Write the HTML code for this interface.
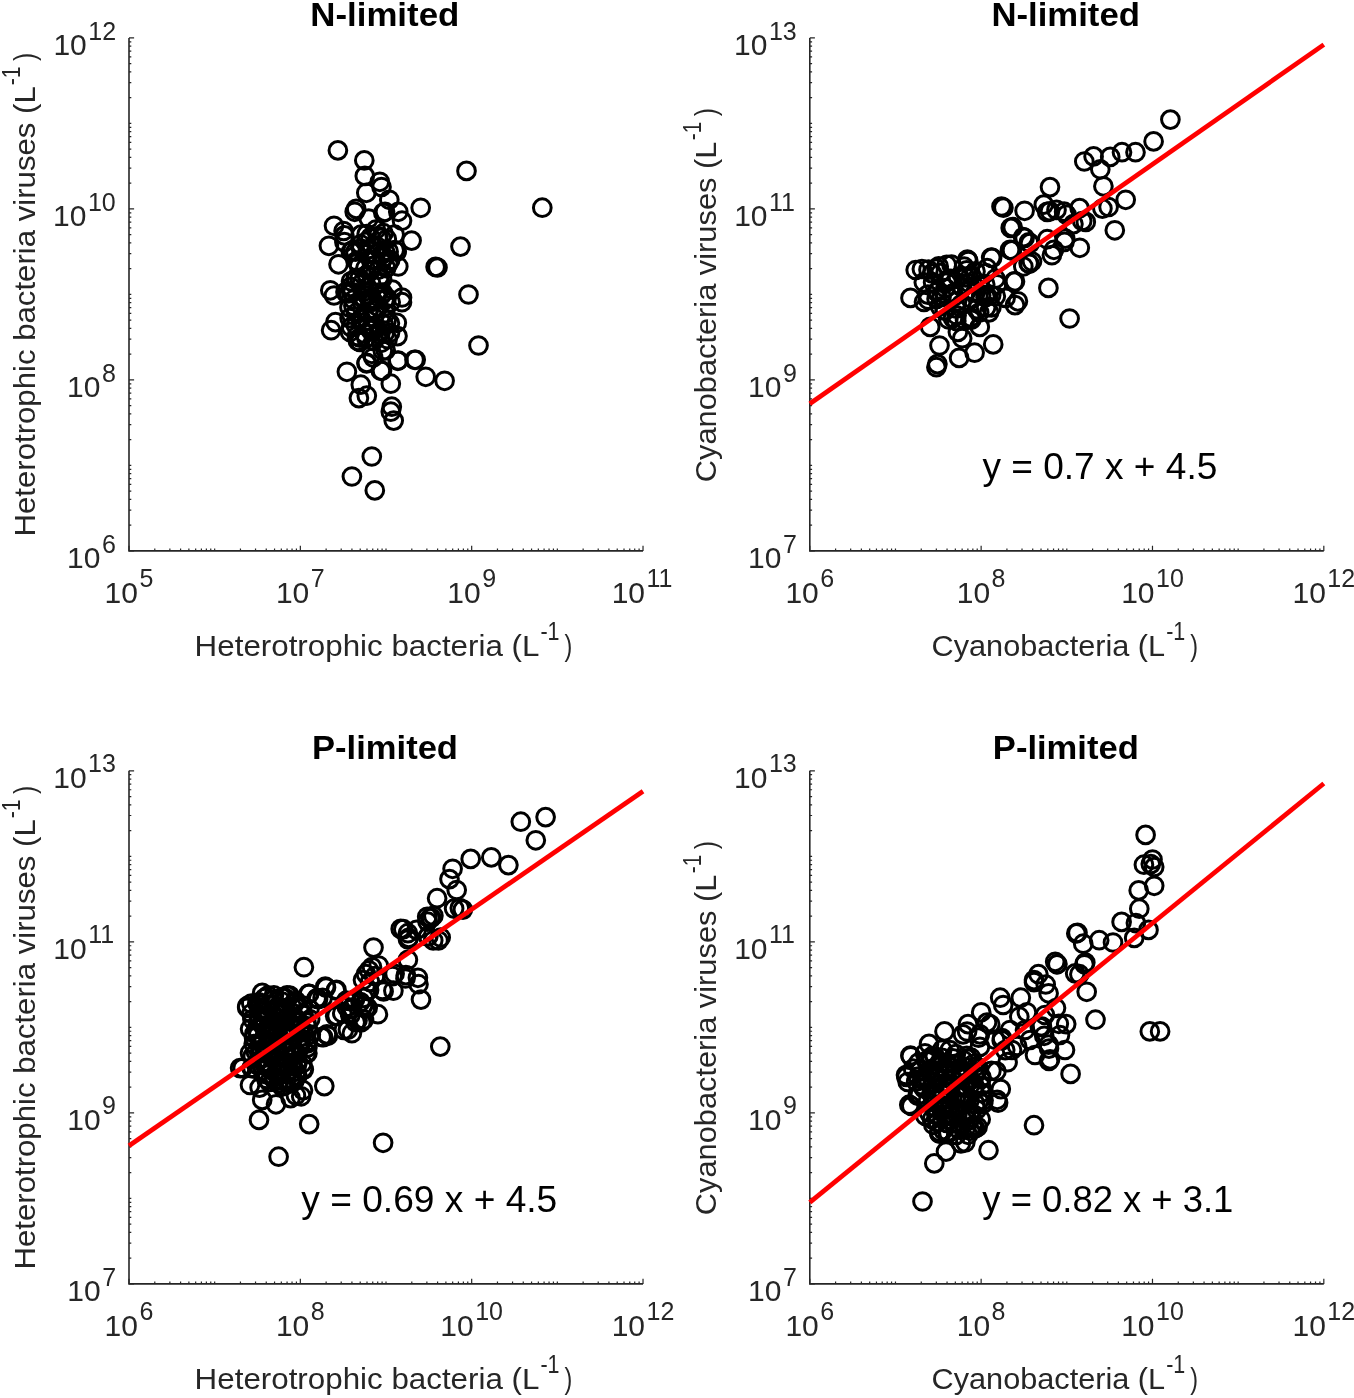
<!DOCTYPE html>
<html><head><meta charset="utf-8"><title>Figure</title>
<style>html,body{margin:0;padding:0;background:#fff;width:1354px;height:1398px;overflow:hidden}
svg text{font-family:"Liberation Sans", Arial, Helvetica, sans-serif}</style></head>
<body>
<svg width="1354" height="1398" viewBox="0 0 1354 1398" style="position:absolute;left:0;top:0;display:block">
<path d="M129.00 550.90V545.80M129.00 550.90H134.10M154.79 550.90V548.60M129.00 525.16H131.30M169.87 550.90V548.60M129.00 510.11H131.30M180.58 550.90V548.60M129.00 499.42H131.30M188.88 550.90V548.60M129.00 491.14H131.30M195.66 550.90V548.60M129.00 484.37H131.30M201.40 550.90V548.60M129.00 478.64H131.30M206.37 550.90V548.60M129.00 473.69H131.30M210.75 550.90V548.60M129.00 469.31H131.30M214.67 550.90V548.60M129.00 465.40H131.30M240.46 550.90V548.60M129.00 439.66H131.30M255.54 550.90V548.60M129.00 424.61H131.30M266.25 550.90V548.60M129.00 413.92H131.30M274.55 550.90V548.60M129.00 405.64H131.30M281.33 550.90V548.60M129.00 398.87H131.30M287.07 550.90V548.60M129.00 393.14H131.30M292.04 550.90V548.60M129.00 388.19H131.30M296.42 550.90V548.60M129.00 383.81H131.30M300.34 550.90V545.80M129.00 379.90H134.10M326.13 550.90V548.60M129.00 354.16H131.30M341.21 550.90V548.60M129.00 339.11H131.30M351.92 550.90V548.60M129.00 328.42H131.30M360.22 550.90V548.60M129.00 320.14H131.30M367.00 550.90V548.60M129.00 313.37H131.30M372.74 550.90V548.60M129.00 307.64H131.30M377.71 550.90V548.60M129.00 302.69H131.30M382.09 550.90V548.60M129.00 298.31H131.30M386.01 550.90V548.60M129.00 294.40H131.30M411.80 550.90V548.60M129.00 268.66H131.30M426.88 550.90V548.60M129.00 253.61H131.30M437.59 550.90V548.60M129.00 242.92H131.30M445.89 550.90V548.60M129.00 234.64H131.30M452.67 550.90V548.60M129.00 227.87H131.30M458.41 550.90V548.60M129.00 222.14H131.30M463.38 550.90V548.60M129.00 217.19H131.30M467.76 550.90V548.60M129.00 212.81H131.30M471.68 550.90V545.80M129.00 208.90H134.10M497.47 550.90V548.60M129.00 183.16H131.30M512.55 550.90V548.60M129.00 168.11H131.30M523.26 550.90V548.60M129.00 157.42H131.30M531.56 550.90V548.60M129.00 149.14H131.30M538.34 550.90V548.60M129.00 142.37H131.30M544.08 550.90V548.60M129.00 136.64H131.30M549.05 550.90V548.60M129.00 131.69H131.30M553.43 550.90V548.60M129.00 127.31H131.30M557.35 550.90V548.60M129.00 123.40H131.30M583.14 550.90V548.60M129.00 97.66H131.30M598.22 550.90V548.60M129.00 82.61H131.30M608.93 550.90V548.60M129.00 71.92H131.30M617.23 550.90V548.60M129.00 63.64H131.30M624.01 550.90V548.60M129.00 56.87H131.30M629.75 550.90V548.60M129.00 51.14H131.30M634.72 550.90V548.60M129.00 46.19H131.30M639.10 550.90V548.60M129.00 41.81H131.30M643.02 550.90V545.80M129.00 37.90H134.10" fill="none" stroke="#262626" stroke-width="1.2"/>
<path d="M129.00 37.90V550.90H643.02" fill="none" stroke="#262626" stroke-width="1.6" stroke-linejoin="miter" stroke-linecap="butt"/>
<g fill="none" stroke="#000" stroke-width="3.0">
<circle cx="337.9" cy="150.4" r="8.85"/>
<circle cx="364.3" cy="160.4" r="8.85"/>
<circle cx="364.8" cy="175.9" r="8.85"/>
<circle cx="379.8" cy="181.8" r="8.85"/>
<circle cx="381.5" cy="187.0" r="8.85"/>
<circle cx="366.3" cy="192.8" r="8.85"/>
<circle cx="389.3" cy="199.8" r="8.85"/>
<circle cx="420.7" cy="207.8" r="8.85"/>
<circle cx="356.2" cy="208.9" r="8.85"/>
<circle cx="354.7" cy="211.8" r="8.85"/>
<circle cx="385.0" cy="211.8" r="8.85"/>
<circle cx="398.3" cy="211.8" r="8.85"/>
<circle cx="383.3" cy="212.8" r="8.85"/>
<circle cx="402.0" cy="220.7" r="8.85"/>
<circle cx="368.7" cy="218.5" r="8.85"/>
<circle cx="334.0" cy="225.8" r="8.85"/>
<circle cx="343.6" cy="231.0" r="8.85"/>
<circle cx="344.4" cy="235.4" r="8.85"/>
<circle cx="328.9" cy="245.8" r="8.85"/>
<circle cx="411.6" cy="240.6" r="8.85"/>
<circle cx="394.6" cy="234.7" r="8.85"/>
<circle cx="394.6" cy="250.2" r="8.85"/>
<circle cx="383.5" cy="233.2" r="8.85"/>
<circle cx="375.8" cy="229.7" r="8.85"/>
<circle cx="351.0" cy="251.7" r="8.85"/>
<circle cx="344.4" cy="242.1" r="8.85"/>
<circle cx="338.5" cy="264.3" r="8.85"/>
<circle cx="398.3" cy="266.5" r="8.85"/>
<circle cx="396.7" cy="251.6" r="8.85"/>
<circle cx="381.8" cy="254.6" r="8.85"/>
<circle cx="542.3" cy="207.7" r="8.85"/>
<circle cx="466.5" cy="170.9" r="8.85"/>
<circle cx="460.5" cy="246.6" r="8.85"/>
<circle cx="435.6" cy="266.9" r="8.85"/>
<circle cx="437.5" cy="267.5" r="8.85"/>
<circle cx="468.5" cy="294.5" r="8.85"/>
<circle cx="478.5" cy="345.5" r="8.85"/>
<circle cx="444.6" cy="380.8" r="8.85"/>
<circle cx="425.7" cy="376.8" r="8.85"/>
<circle cx="415.7" cy="359.8" r="8.85"/>
<circle cx="397.7" cy="360.8" r="8.85"/>
<circle cx="390.8" cy="383.7" r="8.85"/>
<circle cx="380.8" cy="370.8" r="8.85"/>
<circle cx="366.8" cy="362.8" r="8.85"/>
<circle cx="346.9" cy="371.8" r="8.85"/>
<circle cx="360.8" cy="384.7" r="8.85"/>
<circle cx="366.8" cy="395.7" r="8.85"/>
<circle cx="358.9" cy="398.1" r="8.85"/>
<circle cx="391.8" cy="406.7" r="8.85"/>
<circle cx="390.8" cy="411.7" r="8.85"/>
<circle cx="393.7" cy="420.6" r="8.85"/>
<circle cx="371.8" cy="456.5" r="8.85"/>
<circle cx="351.9" cy="476.5" r="8.85"/>
<circle cx="374.8" cy="490.4" r="8.85"/>
<circle cx="330.3" cy="290.3" r="8.85"/>
<circle cx="334.0" cy="295.5" r="8.85"/>
<circle cx="335.5" cy="322.1" r="8.85"/>
<circle cx="331.1" cy="330.2" r="8.85"/>
<circle cx="366.5" cy="363.5" r="8.85"/>
<circle cx="373.2" cy="357.5" r="8.85"/>
<circle cx="382.0" cy="370.8" r="8.85"/>
<circle cx="398.3" cy="360.5" r="8.85"/>
<circle cx="414.5" cy="359.8" r="8.85"/>
<circle cx="385.7" cy="350.2" r="8.85"/>
<circle cx="392.4" cy="289.6" r="8.85"/>
<circle cx="402.0" cy="302.2" r="8.85"/>
<circle cx="396.8" cy="322.8" r="8.85"/>
<circle cx="397.5" cy="336.1" r="8.85"/>
<circle cx="359.9" cy="342.0" r="8.85"/>
<circle cx="359.9" cy="337.6" r="8.85"/>
<circle cx="381.3" cy="342.8" r="8.85"/>
<circle cx="371.7" cy="327.3" r="8.85"/>
<circle cx="402.0" cy="297.5" r="8.85"/>
<circle cx="352.5" cy="292.3" r="8.85"/>
<circle cx="367.3" cy="295.3" r="8.85"/>
<circle cx="382.8" cy="350.8" r="8.85"/>
<circle cx="371.8" cy="353.8" r="8.85"/>
<circle cx="357.9" cy="340.9" r="8.85"/>
<circle cx="361.1" cy="234.6" r="8.85"/>
<circle cx="366.7" cy="234.1" r="8.85"/>
<circle cx="377.9" cy="236.1" r="8.85"/>
<circle cx="360.5" cy="244.3" r="8.85"/>
<circle cx="366.1" cy="241.8" r="8.85"/>
<circle cx="370.5" cy="237.4" r="8.85"/>
<circle cx="381.2" cy="237.8" r="8.85"/>
<circle cx="386.8" cy="239.1" r="8.85"/>
<circle cx="352.6" cy="250.3" r="8.85"/>
<circle cx="361.1" cy="248.9" r="8.85"/>
<circle cx="369.0" cy="249.0" r="8.85"/>
<circle cx="376.7" cy="246.3" r="8.85"/>
<circle cx="388.6" cy="251.4" r="8.85"/>
<circle cx="355.5" cy="251.7" r="8.85"/>
<circle cx="366.9" cy="254.1" r="8.85"/>
<circle cx="375.5" cy="254.0" r="8.85"/>
<circle cx="384.3" cy="257.3" r="8.85"/>
<circle cx="385.4" cy="252.7" r="8.85"/>
<circle cx="356.5" cy="261.0" r="8.85"/>
<circle cx="357.9" cy="262.6" r="8.85"/>
<circle cx="371.0" cy="260.1" r="8.85"/>
<circle cx="374.0" cy="260.5" r="8.85"/>
<circle cx="388.3" cy="263.6" r="8.85"/>
<circle cx="390.2" cy="259.9" r="8.85"/>
<circle cx="359.1" cy="266.3" r="8.85"/>
<circle cx="365.4" cy="268.3" r="8.85"/>
<circle cx="370.8" cy="270.3" r="8.85"/>
<circle cx="378.3" cy="269.7" r="8.85"/>
<circle cx="386.2" cy="268.1" r="8.85"/>
<circle cx="356.4" cy="277.8" r="8.85"/>
<circle cx="359.6" cy="278.3" r="8.85"/>
<circle cx="366.9" cy="274.8" r="8.85"/>
<circle cx="379.6" cy="276.6" r="8.85"/>
<circle cx="382.1" cy="279.1" r="8.85"/>
<circle cx="351.0" cy="281.3" r="8.85"/>
<circle cx="355.5" cy="279.4" r="8.85"/>
<circle cx="362.0" cy="283.1" r="8.85"/>
<circle cx="371.1" cy="283.2" r="8.85"/>
<circle cx="380.1" cy="282.2" r="8.85"/>
<circle cx="345.5" cy="292.1" r="8.85"/>
<circle cx="350.7" cy="286.9" r="8.85"/>
<circle cx="363.9" cy="291.7" r="8.85"/>
<circle cx="367.2" cy="287.2" r="8.85"/>
<circle cx="378.7" cy="292.6" r="8.85"/>
<circle cx="382.8" cy="292.7" r="8.85"/>
<circle cx="348.4" cy="293.5" r="8.85"/>
<circle cx="353.7" cy="299.7" r="8.85"/>
<circle cx="363.1" cy="297.8" r="8.85"/>
<circle cx="371.3" cy="298.7" r="8.85"/>
<circle cx="381.7" cy="294.9" r="8.85"/>
<circle cx="386.7" cy="297.9" r="8.85"/>
<circle cx="353.4" cy="305.8" r="8.85"/>
<circle cx="361.8" cy="301.7" r="8.85"/>
<circle cx="372.0" cy="301.1" r="8.85"/>
<circle cx="373.5" cy="301.6" r="8.85"/>
<circle cx="384.6" cy="300.1" r="8.85"/>
<circle cx="390.7" cy="302.3" r="8.85"/>
<circle cx="349.5" cy="307.6" r="8.85"/>
<circle cx="356.0" cy="313.0" r="8.85"/>
<circle cx="368.5" cy="311.3" r="8.85"/>
<circle cx="374.4" cy="310.8" r="8.85"/>
<circle cx="378.4" cy="306.9" r="8.85"/>
<circle cx="385.5" cy="313.2" r="8.85"/>
<circle cx="349.6" cy="318.1" r="8.85"/>
<circle cx="360.9" cy="318.8" r="8.85"/>
<circle cx="367.7" cy="320.7" r="8.85"/>
<circle cx="373.9" cy="317.5" r="8.85"/>
<circle cx="386.7" cy="320.0" r="8.85"/>
<circle cx="351.1" cy="327.1" r="8.85"/>
<circle cx="355.9" cy="325.4" r="8.85"/>
<circle cx="367.9" cy="326.7" r="8.85"/>
<circle cx="372.4" cy="326.2" r="8.85"/>
<circle cx="383.6" cy="324.6" r="8.85"/>
<circle cx="389.9" cy="323.2" r="8.85"/>
<circle cx="350.0" cy="332.0" r="8.85"/>
<circle cx="364.6" cy="333.7" r="8.85"/>
<circle cx="370.6" cy="330.2" r="8.85"/>
<circle cx="378.7" cy="331.6" r="8.85"/>
<circle cx="384.6" cy="333.4" r="8.85"/>
<circle cx="390.0" cy="332.8" r="8.85"/>
<circle cx="356.9" cy="336.0" r="8.85"/>
<circle cx="366.4" cy="337.9" r="8.85"/>
<circle cx="373.8" cy="340.9" r="8.85"/>
<circle cx="379.2" cy="334.4" r="8.85"/>
<circle cx="387.6" cy="339.2" r="8.85"/>
</g>
<text x="104.61" y="602.60" font-size="30" fill="#262626">10</text>
<text x="139.48" y="587.40" font-size="25" fill="#262626">5</text>
<text x="67.12" y="567.70" font-size="30" fill="#262626">10</text>
<text x="101.99" y="552.50" font-size="25" fill="#262626">6</text>
<text x="275.95" y="602.60" font-size="30" fill="#262626">10</text>
<text x="310.82" y="587.40" font-size="25" fill="#262626">7</text>
<text x="67.11" y="396.70" font-size="30" fill="#262626">10</text>
<text x="101.98" y="381.50" font-size="25" fill="#262626">8</text>
<text x="447.29" y="602.60" font-size="30" fill="#262626">10</text>
<text x="482.16" y="587.40" font-size="25" fill="#262626">9</text>
<text x="53.10" y="225.70" font-size="30" fill="#262626">10</text>
<text x="87.97" y="210.50" font-size="25" fill="#262626">10</text>
<text x="611.68" y="602.60" font-size="30" fill="#262626">10</text>
<text x="646.55" y="587.40" font-size="25" fill="#262626">11</text>
<text x="53.38" y="54.70" font-size="30" fill="#262626">10</text>
<text x="88.25" y="39.50" font-size="25" fill="#262626">12</text>
<text x="310.27" y="26.40" font-size="33" font-weight="bold" fill="#000" textLength="149.03" lengthAdjust="spacingAndGlyphs">N-limited</text>
<text x="194.63" y="655.50" font-size="30" fill="#262626" textLength="344.81" lengthAdjust="spacingAndGlyphs">Heterotrophic bacteria (L</text>
<text x="540.45" y="640.10" font-size="25" fill="#262626" textLength="19.10" lengthAdjust="spacingAndGlyphs">-1</text>
<text x="564.56" y="655.50" font-size="30" fill="#262626" textLength="7.79" lengthAdjust="spacingAndGlyphs">)</text>
<g transform="translate(35.20 534.00) rotate(-90)"><text x="-2.56" y="0.00" font-size="30" fill="#262626" textLength="450.29" lengthAdjust="spacingAndGlyphs">Heterotrophic bacteria viruses (L</text><text x="448.75" y="-15.40" font-size="25" fill="#262626" textLength="18.99" lengthAdjust="spacingAndGlyphs">-1</text><text x="473.06" y="0.00" font-size="30" fill="#262626" textLength="8.16" lengthAdjust="spacingAndGlyphs">)</text></g>
<path d="M809.80 550.90V545.80M809.80 550.90H814.90M835.59 550.90V548.60M809.80 525.16H812.10M850.67 550.90V548.60M809.80 510.11H812.10M861.38 550.90V548.60M809.80 499.42H812.10M869.68 550.90V548.60M809.80 491.14H812.10M876.46 550.90V548.60M809.80 484.37H812.10M882.20 550.90V548.60M809.80 478.64H812.10M887.17 550.90V548.60M809.80 473.69H812.10M891.55 550.90V548.60M809.80 469.31H812.10M895.47 550.90V548.60M809.80 465.40H812.10M921.26 550.90V548.60M809.80 439.66H812.10M936.34 550.90V548.60M809.80 424.61H812.10M947.05 550.90V548.60M809.80 413.92H812.10M955.35 550.90V548.60M809.80 405.64H812.10M962.13 550.90V548.60M809.80 398.87H812.10M967.87 550.90V548.60M809.80 393.14H812.10M972.84 550.90V548.60M809.80 388.19H812.10M977.22 550.90V548.60M809.80 383.81H812.10M981.14 550.90V545.80M809.80 379.90H814.90M1006.93 550.90V548.60M809.80 354.16H812.10M1022.01 550.90V548.60M809.80 339.11H812.10M1032.72 550.90V548.60M809.80 328.42H812.10M1041.02 550.90V548.60M809.80 320.14H812.10M1047.80 550.90V548.60M809.80 313.37H812.10M1053.54 550.90V548.60M809.80 307.64H812.10M1058.51 550.90V548.60M809.80 302.69H812.10M1062.89 550.90V548.60M809.80 298.31H812.10M1066.81 550.90V548.60M809.80 294.40H812.10M1092.60 550.90V548.60M809.80 268.66H812.10M1107.68 550.90V548.60M809.80 253.61H812.10M1118.39 550.90V548.60M809.80 242.92H812.10M1126.69 550.90V548.60M809.80 234.64H812.10M1133.47 550.90V548.60M809.80 227.87H812.10M1139.21 550.90V548.60M809.80 222.14H812.10M1144.18 550.90V548.60M809.80 217.19H812.10M1148.56 550.90V548.60M809.80 212.81H812.10M1152.48 550.90V545.80M809.80 208.90H814.90M1178.27 550.90V548.60M809.80 183.16H812.10M1193.35 550.90V548.60M809.80 168.11H812.10M1204.06 550.90V548.60M809.80 157.42H812.10M1212.36 550.90V548.60M809.80 149.14H812.10M1219.14 550.90V548.60M809.80 142.37H812.10M1224.88 550.90V548.60M809.80 136.64H812.10M1229.85 550.90V548.60M809.80 131.69H812.10M1234.23 550.90V548.60M809.80 127.31H812.10M1238.15 550.90V548.60M809.80 123.40H812.10M1263.94 550.90V548.60M809.80 97.66H812.10M1279.02 550.90V548.60M809.80 82.61H812.10M1289.73 550.90V548.60M809.80 71.92H812.10M1298.03 550.90V548.60M809.80 63.64H812.10M1304.81 550.90V548.60M809.80 56.87H812.10M1310.55 550.90V548.60M809.80 51.14H812.10M1315.52 550.90V548.60M809.80 46.19H812.10M1319.90 550.90V548.60M809.80 41.81H812.10M1323.82 550.90V545.80M809.80 37.90H814.90" fill="none" stroke="#262626" stroke-width="1.2"/>
<path d="M809.80 37.90V550.90H1323.82" fill="none" stroke="#262626" stroke-width="1.6" stroke-linejoin="miter" stroke-linecap="butt"/>
<g fill="none" stroke="#000" stroke-width="3.0">
<circle cx="1170.4" cy="119.6" r="8.85"/>
<circle cx="1153.6" cy="141.4" r="8.85"/>
<circle cx="1135.5" cy="152.2" r="8.85"/>
<circle cx="1122.0" cy="152.2" r="8.85"/>
<circle cx="1110.2" cy="156.9" r="8.85"/>
<circle cx="1093.6" cy="156.4" r="8.85"/>
<circle cx="1084.3" cy="161.5" r="8.85"/>
<circle cx="1100.3" cy="169.3" r="8.85"/>
<circle cx="1103.4" cy="186.3" r="8.85"/>
<circle cx="1125.7" cy="199.8" r="8.85"/>
<circle cx="1108.6" cy="207.0" r="8.85"/>
<circle cx="1102.4" cy="208.6" r="8.85"/>
<circle cx="1079.6" cy="208.1" r="8.85"/>
<circle cx="1082.2" cy="221.0" r="8.85"/>
<circle cx="1073.4" cy="224.1" r="8.85"/>
<circle cx="1114.8" cy="230.3" r="8.85"/>
<circle cx="1064.1" cy="211.7" r="8.85"/>
<circle cx="1065.2" cy="238.6" r="8.85"/>
<circle cx="1050.0" cy="187.1" r="8.85"/>
<circle cx="1003.4" cy="207.7" r="8.85"/>
<circle cx="1001.5" cy="206.5" r="8.85"/>
<circle cx="1024.6" cy="210.8" r="8.85"/>
<circle cx="1043.8" cy="204.6" r="8.85"/>
<circle cx="1047.2" cy="211.9" r="8.85"/>
<circle cx="1049.9" cy="211.3" r="8.85"/>
<circle cx="1056.5" cy="209.9" r="8.85"/>
<circle cx="1066.5" cy="214.6" r="8.85"/>
<circle cx="1085.8" cy="221.9" r="8.85"/>
<circle cx="1012.7" cy="227.2" r="8.85"/>
<circle cx="1024.6" cy="237.9" r="8.85"/>
<circle cx="1030.0" cy="243.2" r="8.85"/>
<circle cx="1064.5" cy="241.9" r="8.85"/>
<circle cx="1079.8" cy="247.8" r="8.85"/>
<circle cx="1053.9" cy="249.8" r="8.85"/>
<circle cx="1051.9" cy="255.2" r="8.85"/>
<circle cx="1010.0" cy="249.8" r="8.85"/>
<circle cx="1028.6" cy="263.1" r="8.85"/>
<circle cx="1023.3" cy="266.5" r="8.85"/>
<circle cx="1032.0" cy="261.5" r="8.85"/>
<circle cx="1047.2" cy="239.2" r="8.85"/>
<circle cx="1010.7" cy="227.9" r="8.85"/>
<circle cx="1023.1" cy="237.2" r="8.85"/>
<circle cx="1028.8" cy="242.4" r="8.85"/>
<circle cx="1011.7" cy="250.1" r="8.85"/>
<circle cx="992.1" cy="257.9" r="8.85"/>
<circle cx="968.3" cy="261.0" r="8.85"/>
<circle cx="1013.8" cy="281.7" r="8.85"/>
<circle cx="1017.9" cy="301.3" r="8.85"/>
<circle cx="1048.4" cy="287.9" r="8.85"/>
<circle cx="1069.6" cy="318.5" r="8.85"/>
<circle cx="915.7" cy="270.0" r="8.85"/>
<circle cx="921.9" cy="269.0" r="8.85"/>
<circle cx="910.5" cy="297.9" r="8.85"/>
<circle cx="924.0" cy="302.0" r="8.85"/>
<circle cx="946.7" cy="264.8" r="8.85"/>
<circle cx="967.4" cy="259.6" r="8.85"/>
<circle cx="991.2" cy="257.6" r="8.85"/>
<circle cx="1011.8" cy="250.3" r="8.85"/>
<circle cx="1015.0" cy="281.4" r="8.85"/>
<circle cx="1015.0" cy="305.1" r="8.85"/>
<circle cx="1005.6" cy="297.9" r="8.85"/>
<circle cx="989.1" cy="312.4" r="8.85"/>
<circle cx="930.2" cy="326.9" r="8.85"/>
<circle cx="993.2" cy="344.4" r="8.85"/>
<circle cx="974.6" cy="352.7" r="8.85"/>
<circle cx="959.1" cy="357.9" r="8.85"/>
<circle cx="939.5" cy="345.5" r="8.85"/>
<circle cx="937.4" cy="364.1" r="8.85"/>
<circle cx="936.4" cy="367.2" r="8.85"/>
<circle cx="962.2" cy="338.2" r="8.85"/>
<circle cx="979.8" cy="326.9" r="8.85"/>
<circle cx="1029.4" cy="263.8" r="8.85"/>
<circle cx="928.5" cy="269.7" r="8.85"/>
<circle cx="936.5" cy="268.7" r="8.85"/>
<circle cx="938.7" cy="266.4" r="8.85"/>
<circle cx="951.5" cy="264.7" r="8.85"/>
<circle cx="964.2" cy="266.7" r="8.85"/>
<circle cx="966.7" cy="270.4" r="8.85"/>
<circle cx="975.5" cy="271.3" r="8.85"/>
<circle cx="987.1" cy="268.2" r="8.85"/>
<circle cx="932.0" cy="273.4" r="8.85"/>
<circle cx="940.3" cy="273.2" r="8.85"/>
<circle cx="950.8" cy="278.8" r="8.85"/>
<circle cx="958.1" cy="277.7" r="8.85"/>
<circle cx="965.7" cy="277.4" r="8.85"/>
<circle cx="970.9" cy="275.4" r="8.85"/>
<circle cx="985.6" cy="273.2" r="8.85"/>
<circle cx="995.4" cy="278.7" r="8.85"/>
<circle cx="923.8" cy="282.3" r="8.85"/>
<circle cx="933.1" cy="282.5" r="8.85"/>
<circle cx="946.5" cy="282.5" r="8.85"/>
<circle cx="947.7" cy="280.1" r="8.85"/>
<circle cx="962.3" cy="287.4" r="8.85"/>
<circle cx="969.5" cy="283.3" r="8.85"/>
<circle cx="978.9" cy="285.4" r="8.85"/>
<circle cx="985.2" cy="284.3" r="8.85"/>
<circle cx="997.0" cy="284.4" r="8.85"/>
<circle cx="927.8" cy="294.6" r="8.85"/>
<circle cx="936.8" cy="292.0" r="8.85"/>
<circle cx="945.4" cy="288.0" r="8.85"/>
<circle cx="952.5" cy="293.7" r="8.85"/>
<circle cx="967.2" cy="290.2" r="8.85"/>
<circle cx="975.5" cy="292.6" r="8.85"/>
<circle cx="986.2" cy="294.9" r="8.85"/>
<circle cx="991.2" cy="295.1" r="8.85"/>
<circle cx="928.2" cy="299.7" r="8.85"/>
<circle cx="936.6" cy="298.9" r="8.85"/>
<circle cx="941.5" cy="296.9" r="8.85"/>
<circle cx="954.5" cy="296.2" r="8.85"/>
<circle cx="957.0" cy="301.4" r="8.85"/>
<circle cx="971.7" cy="298.8" r="8.85"/>
<circle cx="981.2" cy="295.3" r="8.85"/>
<circle cx="985.5" cy="297.3" r="8.85"/>
<circle cx="995.8" cy="296.3" r="8.85"/>
<circle cx="940.0" cy="306.6" r="8.85"/>
<circle cx="945.0" cy="310.5" r="8.85"/>
<circle cx="956.2" cy="308.6" r="8.85"/>
<circle cx="961.2" cy="304.4" r="8.85"/>
<circle cx="976.7" cy="309.2" r="8.85"/>
<circle cx="986.1" cy="307.6" r="8.85"/>
<circle cx="991.4" cy="307.4" r="8.85"/>
<circle cx="944.7" cy="310.6" r="8.85"/>
<circle cx="953.0" cy="318.2" r="8.85"/>
<circle cx="956.6" cy="315.3" r="8.85"/>
<circle cx="970.7" cy="317.4" r="8.85"/>
<circle cx="979.2" cy="312.6" r="8.85"/>
<circle cx="948.3" cy="319.3" r="8.85"/>
<circle cx="956.3" cy="320.9" r="8.85"/>
<circle cx="965.0" cy="320.1" r="8.85"/>
<circle cx="971.3" cy="319.8" r="8.85"/>
<circle cx="957.9" cy="331.9" r="8.85"/>
</g>
<line x1="809.80" y1="403.70" x2="1323.82" y2="44.60" stroke="#ff0000" stroke-width="4.7" stroke-linecap="butt"/>
<text x="785.41" y="602.60" font-size="30" fill="#262626">10</text>
<text x="820.28" y="587.40" font-size="25" fill="#262626">6</text>
<text x="748.08" y="567.70" font-size="30" fill="#262626">10</text>
<text x="782.95" y="552.50" font-size="25" fill="#262626">7</text>
<text x="956.75" y="602.60" font-size="30" fill="#262626">10</text>
<text x="991.62" y="587.40" font-size="25" fill="#262626">8</text>
<text x="748.01" y="396.70" font-size="30" fill="#262626">10</text>
<text x="782.88" y="381.50" font-size="25" fill="#262626">9</text>
<text x="1121.14" y="602.60" font-size="30" fill="#262626">10</text>
<text x="1156.01" y="587.40" font-size="25" fill="#262626">10</text>
<text x="734.14" y="225.70" font-size="30" fill="#262626">10</text>
<text x="769.01" y="210.50" font-size="25" fill="#262626">11</text>
<text x="1292.48" y="602.60" font-size="30" fill="#262626">10</text>
<text x="1327.35" y="587.40" font-size="25" fill="#262626">12</text>
<text x="734.02" y="54.70" font-size="30" fill="#262626">10</text>
<text x="768.89" y="39.50" font-size="25" fill="#262626">13</text>
<text x="991.48" y="26.40" font-size="33" font-weight="bold" fill="#000" textLength="148.41" lengthAdjust="spacingAndGlyphs">N-limited</text>
<text x="931.54" y="655.50" font-size="30" fill="#262626" textLength="233.58" lengthAdjust="spacingAndGlyphs">Cyanobacteria (L</text>
<text x="1166.15" y="640.10" font-size="25" fill="#262626" textLength="19.10" lengthAdjust="spacingAndGlyphs">-1</text>
<text x="1190.26" y="655.50" font-size="30" fill="#262626" textLength="7.79" lengthAdjust="spacingAndGlyphs">)</text>
<g transform="translate(716.10 480.70) rotate(-90)"><text x="-1.56" y="0.00" font-size="30" fill="#262626" textLength="340.59" lengthAdjust="spacingAndGlyphs">Cyanobacteria viruses (L</text><text x="340.57" y="-15.40" font-size="25" fill="#262626" textLength="18.55" lengthAdjust="spacingAndGlyphs">-1</text><text x="364.36" y="0.00" font-size="30" fill="#262626" textLength="8.16" lengthAdjust="spacingAndGlyphs">)</text></g>
<text x="982.41" y="479.40" font-size="36" fill="#000" textLength="234.95" lengthAdjust="spacingAndGlyphs">y = 0.7 x + 4.5</text>
<path d="M129.00 1283.90V1278.80M129.00 1283.90H134.10M154.79 1283.90V1281.60M129.00 1258.16H131.30M169.87 1283.90V1281.60M129.00 1243.10H131.30M180.58 1283.90V1281.60M129.00 1232.41H131.30M188.88 1283.90V1281.60M129.00 1224.13H131.30M195.66 1283.90V1281.60M129.00 1217.36H131.30M201.40 1283.90V1281.60M129.00 1211.63H131.30M206.37 1283.90V1281.60M129.00 1206.67H131.30M210.75 1283.90V1281.60M129.00 1202.30H131.30M214.67 1283.90V1281.60M129.00 1198.38H131.30M240.46 1283.90V1281.60M129.00 1172.64H131.30M255.54 1283.90V1281.60M129.00 1157.58H131.30M266.25 1283.90V1281.60M129.00 1146.90H131.30M274.55 1283.90V1281.60M129.00 1138.61H131.30M281.33 1283.90V1281.60M129.00 1131.84H131.30M287.07 1283.90V1281.60M129.00 1126.11H131.30M292.04 1283.90V1281.60M129.00 1121.15H131.30M296.42 1283.90V1281.60M129.00 1116.78H131.30M300.34 1283.90V1278.80M129.00 1112.87H134.10M326.13 1283.90V1281.60M129.00 1087.12H131.30M341.21 1283.90V1281.60M129.00 1072.06H131.30M351.92 1283.90V1281.60M129.00 1061.38H131.30M360.22 1283.90V1281.60M129.00 1053.09H131.30M367.00 1283.90V1281.60M129.00 1046.32H131.30M372.74 1283.90V1281.60M129.00 1040.60H131.30M377.71 1283.90V1281.60M129.00 1035.64H131.30M382.09 1283.90V1281.60M129.00 1031.26H131.30M386.01 1283.90V1281.60M129.00 1027.35H131.30M411.80 1283.90V1281.60M129.00 1001.61H131.30M426.88 1283.90V1281.60M129.00 986.55H131.30M437.59 1283.90V1281.60M129.00 975.86H131.30M445.89 1283.90V1281.60M129.00 967.58H131.30M452.67 1283.90V1281.60M129.00 960.81H131.30M458.41 1283.90V1281.60M129.00 955.08H131.30M463.38 1283.90V1281.60M129.00 950.12H131.30M467.76 1283.90V1281.60M129.00 945.75H131.30M471.68 1283.90V1278.80M129.00 941.83H134.10M497.47 1283.90V1281.60M129.00 916.09H131.30M512.55 1283.90V1281.60M129.00 901.03H131.30M523.26 1283.90V1281.60M129.00 890.35H131.30M531.56 1283.90V1281.60M129.00 882.06H131.30M538.34 1283.90V1281.60M129.00 875.29H131.30M544.08 1283.90V1281.60M129.00 869.56H131.30M549.05 1283.90V1281.60M129.00 864.60H131.30M553.43 1283.90V1281.60M129.00 860.23H131.30M557.35 1283.90V1281.60M129.00 856.32H131.30M583.14 1283.90V1281.60M129.00 830.57H131.30M598.22 1283.90V1281.60M129.00 815.51H131.30M608.93 1283.90V1281.60M129.00 804.83H131.30M617.23 1283.90V1281.60M129.00 796.54H131.30M624.01 1283.90V1281.60M129.00 789.77H131.30M629.75 1283.90V1281.60M129.00 784.05H131.30M634.72 1283.90V1281.60M129.00 779.09H131.30M639.10 1283.90V1281.60M129.00 774.71H131.30M643.02 1283.90V1278.80M129.00 770.80H134.10" fill="none" stroke="#262626" stroke-width="1.2"/>
<path d="M129.00 770.80V1283.90H643.02" fill="none" stroke="#262626" stroke-width="1.6" stroke-linejoin="miter" stroke-linecap="butt"/>
<g fill="none" stroke="#000" stroke-width="3.0">
<circle cx="545.6" cy="817.1" r="8.85"/>
<circle cx="520.8" cy="821.7" r="8.85"/>
<circle cx="535.8" cy="840.3" r="8.85"/>
<circle cx="508.4" cy="865.1" r="8.85"/>
<circle cx="491.3" cy="857.4" r="8.85"/>
<circle cx="470.7" cy="858.9" r="8.85"/>
<circle cx="452.6" cy="868.8" r="8.85"/>
<circle cx="449.5" cy="879.1" r="8.85"/>
<circle cx="456.7" cy="890.0" r="8.85"/>
<circle cx="437.1" cy="898.2" r="8.85"/>
<circle cx="454.1" cy="908.6" r="8.85"/>
<circle cx="459.8" cy="908.1" r="8.85"/>
<circle cx="462.9" cy="909.6" r="8.85"/>
<circle cx="430.3" cy="917.9" r="8.85"/>
<circle cx="427.2" cy="916.8" r="8.85"/>
<circle cx="433.4" cy="915.8" r="8.85"/>
<circle cx="428.3" cy="936.5" r="8.85"/>
<circle cx="440.7" cy="937.5" r="8.85"/>
<circle cx="431.2" cy="917.9" r="8.85"/>
<circle cx="403.3" cy="929.2" r="8.85"/>
<circle cx="407.9" cy="933.2" r="8.85"/>
<circle cx="408.6" cy="937.9" r="8.85"/>
<circle cx="416.6" cy="929.9" r="8.85"/>
<circle cx="407.9" cy="959.8" r="8.85"/>
<circle cx="433.2" cy="940.5" r="8.85"/>
<circle cx="438.5" cy="940.5" r="8.85"/>
<circle cx="427.9" cy="936.5" r="8.85"/>
<circle cx="394.6" cy="973.8" r="8.85"/>
<circle cx="405.9" cy="975.1" r="8.85"/>
<circle cx="417.9" cy="977.8" r="8.85"/>
<circle cx="373.5" cy="947.6" r="8.85"/>
<circle cx="400.7" cy="928.9" r="8.85"/>
<circle cx="408.0" cy="939.5" r="8.85"/>
<circle cx="427.5" cy="921.6" r="8.85"/>
<circle cx="369.0" cy="970.4" r="8.85"/>
<circle cx="378.7" cy="965.5" r="8.85"/>
<circle cx="392.6" cy="976.1" r="8.85"/>
<circle cx="405.5" cy="978.5" r="8.85"/>
<circle cx="418.5" cy="984.2" r="8.85"/>
<circle cx="421.0" cy="999.6" r="8.85"/>
<circle cx="393.4" cy="990.7" r="8.85"/>
<circle cx="383.6" cy="991.5" r="8.85"/>
<circle cx="377.9" cy="1014.2" r="8.85"/>
<circle cx="367.4" cy="990.7" r="8.85"/>
<circle cx="336.5" cy="989.9" r="8.85"/>
<circle cx="440.3" cy="1046.6" r="8.85"/>
<circle cx="383.1" cy="1142.8" r="8.85"/>
<circle cx="278.6" cy="1156.7" r="8.85"/>
<circle cx="309.2" cy="1124.1" r="8.85"/>
<circle cx="259.0" cy="1119.9" r="8.85"/>
<circle cx="324.3" cy="1086.1" r="8.85"/>
<circle cx="303.9" cy="967.2" r="8.85"/>
<circle cx="262.2" cy="992.9" r="8.85"/>
<circle cx="281.7" cy="997.4" r="8.85"/>
<circle cx="289.7" cy="995.6" r="8.85"/>
<circle cx="309.2" cy="993.8" r="8.85"/>
<circle cx="326.0" cy="987.6" r="8.85"/>
<circle cx="335.8" cy="990.3" r="8.85"/>
<circle cx="318.1" cy="999.1" r="8.85"/>
<circle cx="247.2" cy="1006.2" r="8.85"/>
<circle cx="247.2" cy="1007.8" r="8.85"/>
<circle cx="287.0" cy="995.4" r="8.85"/>
<circle cx="317.2" cy="998.0" r="8.85"/>
<circle cx="326.9" cy="1034.4" r="8.85"/>
<circle cx="321.6" cy="1037.0" r="8.85"/>
<circle cx="336.7" cy="1015.8" r="8.85"/>
<circle cx="343.8" cy="1030.0" r="8.85"/>
<circle cx="240.1" cy="1068.1" r="8.85"/>
<circle cx="252.5" cy="1068.1" r="8.85"/>
<circle cx="250.0" cy="1053.0" r="8.85"/>
<circle cx="259.6" cy="1087.6" r="8.85"/>
<circle cx="303.0" cy="1090.2" r="8.85"/>
<circle cx="262.2" cy="1099.9" r="8.85"/>
<circle cx="276.0" cy="1104.3" r="8.85"/>
<circle cx="290.6" cy="1098.1" r="8.85"/>
<circle cx="301.2" cy="1096.3" r="8.85"/>
<circle cx="295.9" cy="1095.5" r="8.85"/>
<circle cx="242.7" cy="1068.0" r="8.85"/>
<circle cx="251.6" cy="1068.0" r="8.85"/>
<circle cx="274.6" cy="1080.4" r="8.85"/>
<circle cx="284.4" cy="1085.7" r="8.85"/>
<circle cx="303.0" cy="1068.9" r="8.85"/>
<circle cx="308.6" cy="993.9" r="8.85"/>
<circle cx="325.3" cy="986.6" r="8.85"/>
<circle cx="316.6" cy="998.6" r="8.85"/>
<circle cx="322.6" cy="997.9" r="8.85"/>
<circle cx="382.4" cy="990.0" r="8.85"/>
<circle cx="369.1" cy="990.0" r="8.85"/>
<circle cx="363.8" cy="997.9" r="8.85"/>
<circle cx="335.2" cy="1015.9" r="8.85"/>
<circle cx="351.9" cy="1033.2" r="8.85"/>
<circle cx="347.9" cy="1029.8" r="8.85"/>
<circle cx="327.9" cy="1035.8" r="8.85"/>
<circle cx="323.3" cy="1037.2" r="8.85"/>
<circle cx="306.6" cy="1053.1" r="8.85"/>
<circle cx="250.0" cy="1085.0" r="8.85"/>
<circle cx="372.0" cy="967.0" r="8.85"/>
<circle cx="366.0" cy="974.0" r="8.85"/>
<circle cx="375.0" cy="976.0" r="8.85"/>
<circle cx="363.0" cy="980.0" r="8.85"/>
<circle cx="370.0" cy="982.0" r="8.85"/>
<circle cx="267.9" cy="995.5" r="8.85"/>
<circle cx="273.9" cy="995.4" r="8.85"/>
<circle cx="259.0" cy="1002.3" r="8.85"/>
<circle cx="264.6" cy="998.0" r="8.85"/>
<circle cx="273.2" cy="999.9" r="8.85"/>
<circle cx="281.9" cy="1001.6" r="8.85"/>
<circle cx="284.9" cy="997.9" r="8.85"/>
<circle cx="294.2" cy="1002.5" r="8.85"/>
<circle cx="296.0" cy="1001.0" r="8.85"/>
<circle cx="251.3" cy="1003.5" r="8.85"/>
<circle cx="257.3" cy="1003.6" r="8.85"/>
<circle cx="260.3" cy="1004.3" r="8.85"/>
<circle cx="268.5" cy="1004.7" r="8.85"/>
<circle cx="276.9" cy="1007.2" r="8.85"/>
<circle cx="285.2" cy="1008.0" r="8.85"/>
<circle cx="291.9" cy="1007.0" r="8.85"/>
<circle cx="294.4" cy="1003.4" r="8.85"/>
<circle cx="302.7" cy="1005.5" r="8.85"/>
<circle cx="251.5" cy="1013.3" r="8.85"/>
<circle cx="260.3" cy="1012.0" r="8.85"/>
<circle cx="263.9" cy="1010.3" r="8.85"/>
<circle cx="275.1" cy="1011.8" r="8.85"/>
<circle cx="282.1" cy="1009.1" r="8.85"/>
<circle cx="285.5" cy="1012.6" r="8.85"/>
<circle cx="291.9" cy="1012.6" r="8.85"/>
<circle cx="299.1" cy="1008.7" r="8.85"/>
<circle cx="302.9" cy="1013.7" r="8.85"/>
<circle cx="309.5" cy="1009.1" r="8.85"/>
<circle cx="258.6" cy="1016.4" r="8.85"/>
<circle cx="263.0" cy="1018.2" r="8.85"/>
<circle cx="268.2" cy="1015.8" r="8.85"/>
<circle cx="276.7" cy="1017.3" r="8.85"/>
<circle cx="279.8" cy="1014.2" r="8.85"/>
<circle cx="286.9" cy="1017.8" r="8.85"/>
<circle cx="296.6" cy="1019.3" r="8.85"/>
<circle cx="303.6" cy="1015.1" r="8.85"/>
<circle cx="310.1" cy="1019.4" r="8.85"/>
<circle cx="252.4" cy="1019.3" r="8.85"/>
<circle cx="259.0" cy="1020.9" r="8.85"/>
<circle cx="264.4" cy="1019.5" r="8.85"/>
<circle cx="270.6" cy="1024.3" r="8.85"/>
<circle cx="276.6" cy="1022.8" r="8.85"/>
<circle cx="284.0" cy="1020.4" r="8.85"/>
<circle cx="294.1" cy="1021.0" r="8.85"/>
<circle cx="296.9" cy="1021.9" r="8.85"/>
<circle cx="306.4" cy="1022.3" r="8.85"/>
<circle cx="250.1" cy="1029.0" r="8.85"/>
<circle cx="256.3" cy="1029.0" r="8.85"/>
<circle cx="262.8" cy="1025.6" r="8.85"/>
<circle cx="267.3" cy="1029.4" r="8.85"/>
<circle cx="277.4" cy="1030.4" r="8.85"/>
<circle cx="283.6" cy="1028.2" r="8.85"/>
<circle cx="287.0" cy="1029.8" r="8.85"/>
<circle cx="293.3" cy="1027.3" r="8.85"/>
<circle cx="299.9" cy="1027.1" r="8.85"/>
<circle cx="307.4" cy="1027.3" r="8.85"/>
<circle cx="254.5" cy="1033.6" r="8.85"/>
<circle cx="258.2" cy="1035.0" r="8.85"/>
<circle cx="267.6" cy="1035.3" r="8.85"/>
<circle cx="270.0" cy="1034.1" r="8.85"/>
<circle cx="281.6" cy="1032.0" r="8.85"/>
<circle cx="284.0" cy="1035.2" r="8.85"/>
<circle cx="291.5" cy="1032.8" r="8.85"/>
<circle cx="300.6" cy="1032.7" r="8.85"/>
<circle cx="303.5" cy="1031.7" r="8.85"/>
<circle cx="310.8" cy="1034.6" r="8.85"/>
<circle cx="254.0" cy="1037.6" r="8.85"/>
<circle cx="263.7" cy="1038.9" r="8.85"/>
<circle cx="269.5" cy="1041.6" r="8.85"/>
<circle cx="274.7" cy="1037.2" r="8.85"/>
<circle cx="279.8" cy="1038.9" r="8.85"/>
<circle cx="287.8" cy="1038.9" r="8.85"/>
<circle cx="292.6" cy="1036.1" r="8.85"/>
<circle cx="301.3" cy="1040.5" r="8.85"/>
<circle cx="307.3" cy="1041.4" r="8.85"/>
<circle cx="253.7" cy="1044.1" r="8.85"/>
<circle cx="261.4" cy="1043.1" r="8.85"/>
<circle cx="266.9" cy="1046.7" r="8.85"/>
<circle cx="273.0" cy="1043.6" r="8.85"/>
<circle cx="276.9" cy="1045.1" r="8.85"/>
<circle cx="283.9" cy="1043.9" r="8.85"/>
<circle cx="292.5" cy="1047.2" r="8.85"/>
<circle cx="299.8" cy="1044.8" r="8.85"/>
<circle cx="307.3" cy="1043.5" r="8.85"/>
<circle cx="256.0" cy="1052.2" r="8.85"/>
<circle cx="261.5" cy="1051.5" r="8.85"/>
<circle cx="266.9" cy="1052.9" r="8.85"/>
<circle cx="277.1" cy="1049.3" r="8.85"/>
<circle cx="285.3" cy="1052.0" r="8.85"/>
<circle cx="286.4" cy="1048.8" r="8.85"/>
<circle cx="295.5" cy="1053.2" r="8.85"/>
<circle cx="299.9" cy="1047.6" r="8.85"/>
<circle cx="307.4" cy="1047.6" r="8.85"/>
<circle cx="252.7" cy="1056.1" r="8.85"/>
<circle cx="259.4" cy="1053.8" r="8.85"/>
<circle cx="263.5" cy="1057.7" r="8.85"/>
<circle cx="272.4" cy="1055.8" r="8.85"/>
<circle cx="279.1" cy="1057.0" r="8.85"/>
<circle cx="288.1" cy="1057.8" r="8.85"/>
<circle cx="293.6" cy="1055.0" r="8.85"/>
<circle cx="296.8" cy="1053.5" r="8.85"/>
<circle cx="307.4" cy="1053.3" r="8.85"/>
<circle cx="256.0" cy="1064.1" r="8.85"/>
<circle cx="264.1" cy="1063.5" r="8.85"/>
<circle cx="266.8" cy="1062.9" r="8.85"/>
<circle cx="275.7" cy="1061.0" r="8.85"/>
<circle cx="284.4" cy="1062.9" r="8.85"/>
<circle cx="291.4" cy="1062.9" r="8.85"/>
<circle cx="297.9" cy="1061.1" r="8.85"/>
<circle cx="302.3" cy="1063.2" r="8.85"/>
<circle cx="261.9" cy="1065.0" r="8.85"/>
<circle cx="265.6" cy="1065.6" r="8.85"/>
<circle cx="271.8" cy="1069.9" r="8.85"/>
<circle cx="278.8" cy="1066.1" r="8.85"/>
<circle cx="284.4" cy="1066.8" r="8.85"/>
<circle cx="293.2" cy="1066.3" r="8.85"/>
<circle cx="296.9" cy="1065.6" r="8.85"/>
<circle cx="303.8" cy="1069.6" r="8.85"/>
<circle cx="262.6" cy="1070.3" r="8.85"/>
<circle cx="267.1" cy="1074.6" r="8.85"/>
<circle cx="276.2" cy="1072.7" r="8.85"/>
<circle cx="281.6" cy="1073.9" r="8.85"/>
<circle cx="288.9" cy="1070.2" r="8.85"/>
<circle cx="296.1" cy="1071.7" r="8.85"/>
<circle cx="266.6" cy="1079.0" r="8.85"/>
<circle cx="274.3" cy="1077.1" r="8.85"/>
<circle cx="279.5" cy="1080.1" r="8.85"/>
<circle cx="286.3" cy="1078.7" r="8.85"/>
<circle cx="294.3" cy="1081.2" r="8.85"/>
<circle cx="297.3" cy="1075.9" r="8.85"/>
<circle cx="269.3" cy="1081.9" r="8.85"/>
<circle cx="278.2" cy="1083.2" r="8.85"/>
<circle cx="281.9" cy="1086.4" r="8.85"/>
<circle cx="290.9" cy="1083.1" r="8.85"/>
<circle cx="346.2" cy="1000.7" r="8.85"/>
<circle cx="355.0" cy="999.5" r="8.85"/>
<circle cx="346.8" cy="1007.1" r="8.85"/>
<circle cx="350.4" cy="1001.1" r="8.85"/>
<circle cx="360.5" cy="1002.0" r="8.85"/>
<circle cx="362.9" cy="1006.1" r="8.85"/>
<circle cx="342.3" cy="1013.3" r="8.85"/>
<circle cx="350.6" cy="1009.0" r="8.85"/>
<circle cx="352.2" cy="1008.4" r="8.85"/>
<circle cx="365.7" cy="1008.4" r="8.85"/>
<circle cx="367.7" cy="1007.8" r="8.85"/>
<circle cx="350.3" cy="1015.2" r="8.85"/>
<circle cx="357.5" cy="1020.4" r="8.85"/>
<circle cx="364.0" cy="1019.6" r="8.85"/>
<circle cx="355.6" cy="1022.2" r="8.85"/>
<circle cx="361.3" cy="1022.3" r="8.85"/>
</g>
<line x1="129.00" y1="1145.70" x2="643.02" y2="791.20" stroke="#ff0000" stroke-width="4.7" stroke-linecap="butt"/>
<text x="104.61" y="1335.60" font-size="30" fill="#262626">10</text>
<text x="139.48" y="1320.40" font-size="25" fill="#262626">6</text>
<text x="67.28" y="1300.70" font-size="30" fill="#262626">10</text>
<text x="102.15" y="1285.50" font-size="25" fill="#262626">7</text>
<text x="275.95" y="1335.60" font-size="30" fill="#262626">10</text>
<text x="310.82" y="1320.40" font-size="25" fill="#262626">8</text>
<text x="67.21" y="1129.67" font-size="30" fill="#262626">10</text>
<text x="102.08" y="1114.47" font-size="25" fill="#262626">9</text>
<text x="440.34" y="1335.60" font-size="30" fill="#262626">10</text>
<text x="475.21" y="1320.40" font-size="25" fill="#262626">10</text>
<text x="53.34" y="958.63" font-size="30" fill="#262626">10</text>
<text x="88.21" y="943.43" font-size="25" fill="#262626">11</text>
<text x="611.68" y="1335.60" font-size="30" fill="#262626">10</text>
<text x="646.55" y="1320.40" font-size="25" fill="#262626">12</text>
<text x="53.22" y="787.60" font-size="30" fill="#262626">10</text>
<text x="88.09" y="772.40" font-size="25" fill="#262626">13</text>
<text x="312.09" y="758.90" font-size="33" font-weight="bold" fill="#000" textLength="145.89" lengthAdjust="spacingAndGlyphs">P-limited</text>
<text x="194.63" y="1388.50" font-size="30" fill="#262626" textLength="344.81" lengthAdjust="spacingAndGlyphs">Heterotrophic bacteria (L</text>
<text x="540.45" y="1373.10" font-size="25" fill="#262626" textLength="19.10" lengthAdjust="spacingAndGlyphs">-1</text>
<text x="564.56" y="1388.50" font-size="30" fill="#262626" textLength="7.79" lengthAdjust="spacingAndGlyphs">)</text>
<g transform="translate(35.20 1267.00) rotate(-90)"><text x="-2.56" y="0.00" font-size="30" fill="#262626" textLength="450.29" lengthAdjust="spacingAndGlyphs">Heterotrophic bacteria viruses (L</text><text x="448.75" y="-15.40" font-size="25" fill="#262626" textLength="18.99" lengthAdjust="spacingAndGlyphs">-1</text><text x="473.06" y="0.00" font-size="30" fill="#262626" textLength="8.16" lengthAdjust="spacingAndGlyphs">)</text></g>
<text x="301.31" y="1212.40" font-size="36" fill="#000" textLength="255.95" lengthAdjust="spacingAndGlyphs">y = 0.69 x + 4.5</text>
<path d="M809.80 1283.90V1278.80M809.80 1283.90H814.90M835.59 1283.90V1281.60M809.80 1258.16H812.10M850.67 1283.90V1281.60M809.80 1243.10H812.10M861.38 1283.90V1281.60M809.80 1232.41H812.10M869.68 1283.90V1281.60M809.80 1224.13H812.10M876.46 1283.90V1281.60M809.80 1217.36H812.10M882.20 1283.90V1281.60M809.80 1211.63H812.10M887.17 1283.90V1281.60M809.80 1206.67H812.10M891.55 1283.90V1281.60M809.80 1202.30H812.10M895.47 1283.90V1281.60M809.80 1198.38H812.10M921.26 1283.90V1281.60M809.80 1172.64H812.10M936.34 1283.90V1281.60M809.80 1157.58H812.10M947.05 1283.90V1281.60M809.80 1146.90H812.10M955.35 1283.90V1281.60M809.80 1138.61H812.10M962.13 1283.90V1281.60M809.80 1131.84H812.10M967.87 1283.90V1281.60M809.80 1126.11H812.10M972.84 1283.90V1281.60M809.80 1121.15H812.10M977.22 1283.90V1281.60M809.80 1116.78H812.10M981.14 1283.90V1278.80M809.80 1112.87H814.90M1006.93 1283.90V1281.60M809.80 1087.12H812.10M1022.01 1283.90V1281.60M809.80 1072.06H812.10M1032.72 1283.90V1281.60M809.80 1061.38H812.10M1041.02 1283.90V1281.60M809.80 1053.09H812.10M1047.80 1283.90V1281.60M809.80 1046.32H812.10M1053.54 1283.90V1281.60M809.80 1040.60H812.10M1058.51 1283.90V1281.60M809.80 1035.64H812.10M1062.89 1283.90V1281.60M809.80 1031.26H812.10M1066.81 1283.90V1281.60M809.80 1027.35H812.10M1092.60 1283.90V1281.60M809.80 1001.61H812.10M1107.68 1283.90V1281.60M809.80 986.55H812.10M1118.39 1283.90V1281.60M809.80 975.86H812.10M1126.69 1283.90V1281.60M809.80 967.58H812.10M1133.47 1283.90V1281.60M809.80 960.81H812.10M1139.21 1283.90V1281.60M809.80 955.08H812.10M1144.18 1283.90V1281.60M809.80 950.12H812.10M1148.56 1283.90V1281.60M809.80 945.75H812.10M1152.48 1283.90V1278.80M809.80 941.83H814.90M1178.27 1283.90V1281.60M809.80 916.09H812.10M1193.35 1283.90V1281.60M809.80 901.03H812.10M1204.06 1283.90V1281.60M809.80 890.35H812.10M1212.36 1283.90V1281.60M809.80 882.06H812.10M1219.14 1283.90V1281.60M809.80 875.29H812.10M1224.88 1283.90V1281.60M809.80 869.56H812.10M1229.85 1283.90V1281.60M809.80 864.60H812.10M1234.23 1283.90V1281.60M809.80 860.23H812.10M1238.15 1283.90V1281.60M809.80 856.32H812.10M1263.94 1283.90V1281.60M809.80 830.57H812.10M1279.02 1283.90V1281.60M809.80 815.51H812.10M1289.73 1283.90V1281.60M809.80 804.83H812.10M1298.03 1283.90V1281.60M809.80 796.54H812.10M1304.81 1283.90V1281.60M809.80 789.77H812.10M1310.55 1283.90V1281.60M809.80 784.05H812.10M1315.52 1283.90V1281.60M809.80 779.09H812.10M1319.90 1283.90V1281.60M809.80 774.71H812.10M1323.82 1283.90V1278.80M809.80 770.80H814.90" fill="none" stroke="#262626" stroke-width="1.2"/>
<path d="M809.80 770.80V1283.90H1323.82" fill="none" stroke="#262626" stroke-width="1.6" stroke-linejoin="miter" stroke-linecap="butt"/>
<g fill="none" stroke="#000" stroke-width="3.0">
<circle cx="1145.6" cy="834.9" r="8.85"/>
<circle cx="1152.5" cy="859.5" r="8.85"/>
<circle cx="1143.9" cy="864.7" r="8.85"/>
<circle cx="1154.2" cy="867.0" r="8.85"/>
<circle cx="1150.8" cy="864.1" r="8.85"/>
<circle cx="1154.2" cy="885.8" r="8.85"/>
<circle cx="1138.7" cy="890.4" r="8.85"/>
<circle cx="1139.3" cy="908.7" r="8.85"/>
<circle cx="1121.6" cy="921.9" r="8.85"/>
<circle cx="1135.9" cy="923.1" r="8.85"/>
<circle cx="1148.5" cy="929.9" r="8.85"/>
<circle cx="1134.2" cy="937.9" r="8.85"/>
<circle cx="1076.3" cy="933.4" r="8.85"/>
<circle cx="1077.5" cy="932.8" r="8.85"/>
<circle cx="1083.2" cy="943.7" r="8.85"/>
<circle cx="1099.2" cy="940.2" r="8.85"/>
<circle cx="1113.0" cy="942.5" r="8.85"/>
<circle cx="1084.4" cy="964.3" r="8.85"/>
<circle cx="1056.9" cy="964.3" r="8.85"/>
<circle cx="1075.2" cy="973.4" r="8.85"/>
<circle cx="1085.3" cy="962.5" r="8.85"/>
<circle cx="1057.4" cy="964.0" r="8.85"/>
<circle cx="1079.4" cy="974.2" r="8.85"/>
<circle cx="1038.4" cy="974.2" r="8.85"/>
<circle cx="1034.0" cy="980.1" r="8.85"/>
<circle cx="1045.7" cy="984.5" r="8.85"/>
<circle cx="1086.7" cy="991.8" r="8.85"/>
<circle cx="1048.6" cy="993.3" r="8.85"/>
<circle cx="1000.2" cy="997.7" r="8.85"/>
<circle cx="1020.8" cy="997.7" r="8.85"/>
<circle cx="1003.2" cy="1005.0" r="8.85"/>
<circle cx="981.2" cy="1012.3" r="8.85"/>
<circle cx="987.0" cy="1022.6" r="8.85"/>
<circle cx="968.0" cy="1024.1" r="8.85"/>
<circle cx="1019.3" cy="1016.7" r="8.85"/>
<circle cx="1056.0" cy="1008.0" r="8.85"/>
<circle cx="1066.2" cy="1024.1" r="8.85"/>
<circle cx="1095.5" cy="1019.7" r="8.85"/>
<circle cx="1149.8" cy="1031.4" r="8.85"/>
<circle cx="1160.1" cy="1031.4" r="8.85"/>
<circle cx="1039.8" cy="1027.0" r="8.85"/>
<circle cx="1044.2" cy="1035.8" r="8.85"/>
<circle cx="1048.6" cy="1044.6" r="8.85"/>
<circle cx="1050.1" cy="1059.3" r="8.85"/>
<circle cx="1070.6" cy="1073.9" r="8.85"/>
<circle cx="944.5" cy="1031.4" r="8.85"/>
<circle cx="1007.6" cy="1062.2" r="8.85"/>
<circle cx="1034.0" cy="1125.2" r="8.85"/>
<circle cx="988.5" cy="1150.2" r="8.85"/>
<circle cx="934.3" cy="1163.4" r="8.85"/>
<circle cx="946.0" cy="1151.6" r="8.85"/>
<circle cx="922.5" cy="1201.5" r="8.85"/>
<circle cx="909.3" cy="1104.7" r="8.85"/>
<circle cx="906.4" cy="1076.9" r="8.85"/>
<circle cx="910.8" cy="1056.3" r="8.85"/>
<circle cx="929.0" cy="1043.9" r="8.85"/>
<circle cx="910.4" cy="1055.5" r="8.85"/>
<circle cx="906.0" cy="1075.0" r="8.85"/>
<circle cx="907.7" cy="1082.0" r="8.85"/>
<circle cx="911.3" cy="1106.0" r="8.85"/>
<circle cx="967.1" cy="1031.5" r="8.85"/>
<circle cx="978.6" cy="1037.7" r="8.85"/>
<circle cx="990.2" cy="1024.4" r="8.85"/>
<circle cx="1001.7" cy="1040.4" r="8.85"/>
<circle cx="1005.2" cy="1050.1" r="8.85"/>
<circle cx="996.4" cy="1071.4" r="8.85"/>
<circle cx="1000.8" cy="1089.1" r="8.85"/>
<circle cx="997.2" cy="1099.8" r="8.85"/>
<circle cx="939.6" cy="1131.7" r="8.85"/>
<circle cx="973.3" cy="1128.1" r="8.85"/>
<circle cx="939.6" cy="1133.7" r="8.85"/>
<circle cx="943.2" cy="1130.1" r="8.85"/>
<circle cx="960.9" cy="1143.4" r="8.85"/>
<circle cx="965.3" cy="1142.5" r="8.85"/>
<circle cx="975.1" cy="1128.4" r="8.85"/>
<circle cx="998.1" cy="1102.7" r="8.85"/>
<circle cx="1034.0" cy="982.2" r="8.85"/>
<circle cx="1055.2" cy="961.8" r="8.85"/>
<circle cx="1026.9" cy="1012.3" r="8.85"/>
<circle cx="1002.0" cy="1038.0" r="8.85"/>
<circle cx="995.0" cy="1039.8" r="8.85"/>
<circle cx="1017.1" cy="1046.0" r="8.85"/>
<circle cx="1049.0" cy="1048.6" r="8.85"/>
<circle cx="1049.0" cy="1061.0" r="8.85"/>
<circle cx="1041.9" cy="1026.5" r="8.85"/>
<circle cx="1058.8" cy="1023.8" r="8.85"/>
<circle cx="963.0" cy="1034.4" r="8.85"/>
<circle cx="979.9" cy="1034.4" r="8.85"/>
<circle cx="991.4" cy="1070.8" r="8.85"/>
<circle cx="979.9" cy="1046.9" r="8.85"/>
<circle cx="1010.0" cy="1030.0" r="8.85"/>
<circle cx="1030.0" cy="1040.0" r="8.85"/>
<circle cx="1025.0" cy="1030.0" r="8.85"/>
<circle cx="1012.0" cy="1050.0" r="8.85"/>
<circle cx="1035.0" cy="1055.0" r="8.85"/>
<circle cx="1045.0" cy="1015.0" r="8.85"/>
<circle cx="1060.0" cy="1035.0" r="8.85"/>
<circle cx="1065.0" cy="1050.0" r="8.85"/>
<circle cx="942.3" cy="1049.5" r="8.85"/>
<circle cx="949.8" cy="1050.0" r="8.85"/>
<circle cx="925.0" cy="1053.4" r="8.85"/>
<circle cx="931.5" cy="1056.7" r="8.85"/>
<circle cx="934.8" cy="1056.3" r="8.85"/>
<circle cx="942.0" cy="1057.9" r="8.85"/>
<circle cx="952.8" cy="1058.3" r="8.85"/>
<circle cx="955.9" cy="1054.1" r="8.85"/>
<circle cx="966.8" cy="1055.9" r="8.85"/>
<circle cx="971.1" cy="1057.7" r="8.85"/>
<circle cx="918.6" cy="1062.5" r="8.85"/>
<circle cx="926.4" cy="1060.8" r="8.85"/>
<circle cx="930.5" cy="1059.1" r="8.85"/>
<circle cx="940.5" cy="1062.9" r="8.85"/>
<circle cx="947.5" cy="1063.1" r="8.85"/>
<circle cx="955.5" cy="1063.9" r="8.85"/>
<circle cx="963.4" cy="1060.3" r="8.85"/>
<circle cx="967.3" cy="1058.7" r="8.85"/>
<circle cx="973.8" cy="1063.8" r="8.85"/>
<circle cx="913.1" cy="1068.7" r="8.85"/>
<circle cx="920.4" cy="1070.2" r="8.85"/>
<circle cx="931.0" cy="1069.3" r="8.85"/>
<circle cx="937.9" cy="1067.2" r="8.85"/>
<circle cx="946.7" cy="1070.7" r="8.85"/>
<circle cx="949.9" cy="1067.3" r="8.85"/>
<circle cx="960.3" cy="1068.9" r="8.85"/>
<circle cx="965.4" cy="1067.4" r="8.85"/>
<circle cx="976.2" cy="1066.3" r="8.85"/>
<circle cx="978.5" cy="1068.9" r="8.85"/>
<circle cx="918.1" cy="1076.7" r="8.85"/>
<circle cx="925.6" cy="1076.4" r="8.85"/>
<circle cx="935.2" cy="1075.4" r="8.85"/>
<circle cx="938.9" cy="1071.8" r="8.85"/>
<circle cx="945.0" cy="1071.9" r="8.85"/>
<circle cx="956.3" cy="1071.1" r="8.85"/>
<circle cx="960.7" cy="1074.4" r="8.85"/>
<circle cx="967.4" cy="1072.8" r="8.85"/>
<circle cx="975.0" cy="1075.1" r="8.85"/>
<circle cx="981.5" cy="1077.2" r="8.85"/>
<circle cx="916.2" cy="1081.6" r="8.85"/>
<circle cx="923.1" cy="1080.2" r="8.85"/>
<circle cx="933.1" cy="1082.7" r="8.85"/>
<circle cx="939.3" cy="1077.1" r="8.85"/>
<circle cx="945.0" cy="1083.0" r="8.85"/>
<circle cx="952.5" cy="1080.3" r="8.85"/>
<circle cx="959.8" cy="1078.1" r="8.85"/>
<circle cx="967.5" cy="1082.0" r="8.85"/>
<circle cx="970.4" cy="1080.2" r="8.85"/>
<circle cx="981.0" cy="1079.2" r="8.85"/>
<circle cx="921.8" cy="1085.2" r="8.85"/>
<circle cx="924.1" cy="1088.7" r="8.85"/>
<circle cx="934.3" cy="1088.5" r="8.85"/>
<circle cx="943.2" cy="1085.0" r="8.85"/>
<circle cx="948.6" cy="1085.1" r="8.85"/>
<circle cx="957.1" cy="1087.7" r="8.85"/>
<circle cx="960.7" cy="1086.4" r="8.85"/>
<circle cx="970.2" cy="1084.7" r="8.85"/>
<circle cx="974.7" cy="1086.2" r="8.85"/>
<circle cx="981.2" cy="1086.4" r="8.85"/>
<circle cx="918.5" cy="1094.8" r="8.85"/>
<circle cx="919.9" cy="1094.8" r="8.85"/>
<circle cx="931.4" cy="1094.0" r="8.85"/>
<circle cx="934.1" cy="1094.3" r="8.85"/>
<circle cx="942.4" cy="1094.6" r="8.85"/>
<circle cx="950.4" cy="1091.8" r="8.85"/>
<circle cx="956.7" cy="1095.0" r="8.85"/>
<circle cx="964.2" cy="1095.1" r="8.85"/>
<circle cx="973.3" cy="1090.4" r="8.85"/>
<circle cx="981.4" cy="1092.8" r="8.85"/>
<circle cx="917.7" cy="1095.8" r="8.85"/>
<circle cx="928.1" cy="1100.4" r="8.85"/>
<circle cx="932.9" cy="1096.8" r="8.85"/>
<circle cx="941.0" cy="1099.4" r="8.85"/>
<circle cx="949.2" cy="1098.8" r="8.85"/>
<circle cx="955.6" cy="1100.3" r="8.85"/>
<circle cx="960.4" cy="1096.8" r="8.85"/>
<circle cx="969.5" cy="1100.5" r="8.85"/>
<circle cx="978.8" cy="1101.2" r="8.85"/>
<circle cx="983.6" cy="1100.3" r="8.85"/>
<circle cx="933.2" cy="1106.2" r="8.85"/>
<circle cx="938.8" cy="1104.3" r="8.85"/>
<circle cx="946.3" cy="1102.4" r="8.85"/>
<circle cx="950.8" cy="1104.2" r="8.85"/>
<circle cx="961.2" cy="1103.0" r="8.85"/>
<circle cx="963.8" cy="1102.5" r="8.85"/>
<circle cx="975.4" cy="1103.9" r="8.85"/>
<circle cx="983.0" cy="1103.9" r="8.85"/>
<circle cx="928.9" cy="1112.6" r="8.85"/>
<circle cx="936.2" cy="1114.0" r="8.85"/>
<circle cx="943.8" cy="1109.9" r="8.85"/>
<circle cx="950.3" cy="1113.2" r="8.85"/>
<circle cx="954.2" cy="1109.2" r="8.85"/>
<circle cx="965.0" cy="1111.2" r="8.85"/>
<circle cx="969.8" cy="1113.9" r="8.85"/>
<circle cx="976.7" cy="1109.7" r="8.85"/>
<circle cx="925.4" cy="1115.9" r="8.85"/>
<circle cx="932.0" cy="1119.2" r="8.85"/>
<circle cx="937.3" cy="1115.6" r="8.85"/>
<circle cx="945.5" cy="1116.2" r="8.85"/>
<circle cx="950.0" cy="1119.9" r="8.85"/>
<circle cx="957.3" cy="1114.9" r="8.85"/>
<circle cx="968.2" cy="1120.8" r="8.85"/>
<circle cx="971.9" cy="1117.0" r="8.85"/>
<circle cx="980.7" cy="1119.2" r="8.85"/>
<circle cx="933.3" cy="1124.8" r="8.85"/>
<circle cx="937.8" cy="1121.9" r="8.85"/>
<circle cx="946.7" cy="1123.0" r="8.85"/>
<circle cx="953.1" cy="1123.3" r="8.85"/>
<circle cx="959.7" cy="1124.3" r="8.85"/>
<circle cx="972.6" cy="1126.1" r="8.85"/>
<circle cx="977.6" cy="1126.9" r="8.85"/>
<circle cx="939.2" cy="1133.0" r="8.85"/>
<circle cx="947.5" cy="1131.8" r="8.85"/>
<circle cx="948.5" cy="1133.0" r="8.85"/>
<circle cx="959.2" cy="1129.7" r="8.85"/>
<circle cx="965.6" cy="1128.6" r="8.85"/>
<circle cx="970.2" cy="1130.8" r="8.85"/>
<circle cx="956.4" cy="1134.9" r="8.85"/>
<circle cx="968.1" cy="1134.8" r="8.85"/>
</g>
<line x1="809.80" y1="1202.40" x2="1323.82" y2="783.50" stroke="#ff0000" stroke-width="4.7" stroke-linecap="butt"/>
<text x="785.41" y="1335.60" font-size="30" fill="#262626">10</text>
<text x="820.28" y="1320.40" font-size="25" fill="#262626">6</text>
<text x="748.08" y="1300.70" font-size="30" fill="#262626">10</text>
<text x="782.95" y="1285.50" font-size="25" fill="#262626">7</text>
<text x="956.75" y="1335.60" font-size="30" fill="#262626">10</text>
<text x="991.62" y="1320.40" font-size="25" fill="#262626">8</text>
<text x="748.01" y="1129.67" font-size="30" fill="#262626">10</text>
<text x="782.88" y="1114.47" font-size="25" fill="#262626">9</text>
<text x="1121.14" y="1335.60" font-size="30" fill="#262626">10</text>
<text x="1156.01" y="1320.40" font-size="25" fill="#262626">10</text>
<text x="734.14" y="958.63" font-size="30" fill="#262626">10</text>
<text x="769.01" y="943.43" font-size="25" fill="#262626">11</text>
<text x="1292.48" y="1335.60" font-size="30" fill="#262626">10</text>
<text x="1327.35" y="1320.40" font-size="25" fill="#262626">12</text>
<text x="734.02" y="787.60" font-size="30" fill="#262626">10</text>
<text x="768.89" y="772.40" font-size="25" fill="#262626">13</text>
<text x="992.89" y="758.90" font-size="33" font-weight="bold" fill="#000" textLength="145.89" lengthAdjust="spacingAndGlyphs">P-limited</text>
<text x="931.54" y="1388.50" font-size="30" fill="#262626" textLength="233.58" lengthAdjust="spacingAndGlyphs">Cyanobacteria (L</text>
<text x="1166.15" y="1373.10" font-size="25" fill="#262626" textLength="19.10" lengthAdjust="spacingAndGlyphs">-1</text>
<text x="1190.26" y="1388.50" font-size="30" fill="#262626" textLength="7.79" lengthAdjust="spacingAndGlyphs">)</text>
<g transform="translate(716.10 1213.70) rotate(-90)"><text x="-1.56" y="0.00" font-size="30" fill="#262626" textLength="340.59" lengthAdjust="spacingAndGlyphs">Cyanobacteria viruses (L</text><text x="340.57" y="-15.40" font-size="25" fill="#262626" textLength="18.55" lengthAdjust="spacingAndGlyphs">-1</text><text x="364.36" y="0.00" font-size="30" fill="#262626" textLength="8.16" lengthAdjust="spacingAndGlyphs">)</text></g>
<text x="982.31" y="1212.40" font-size="36" fill="#000" textLength="251.07" lengthAdjust="spacingAndGlyphs">y = 0.82 x + 3.1</text>
</svg>
</body></html>
